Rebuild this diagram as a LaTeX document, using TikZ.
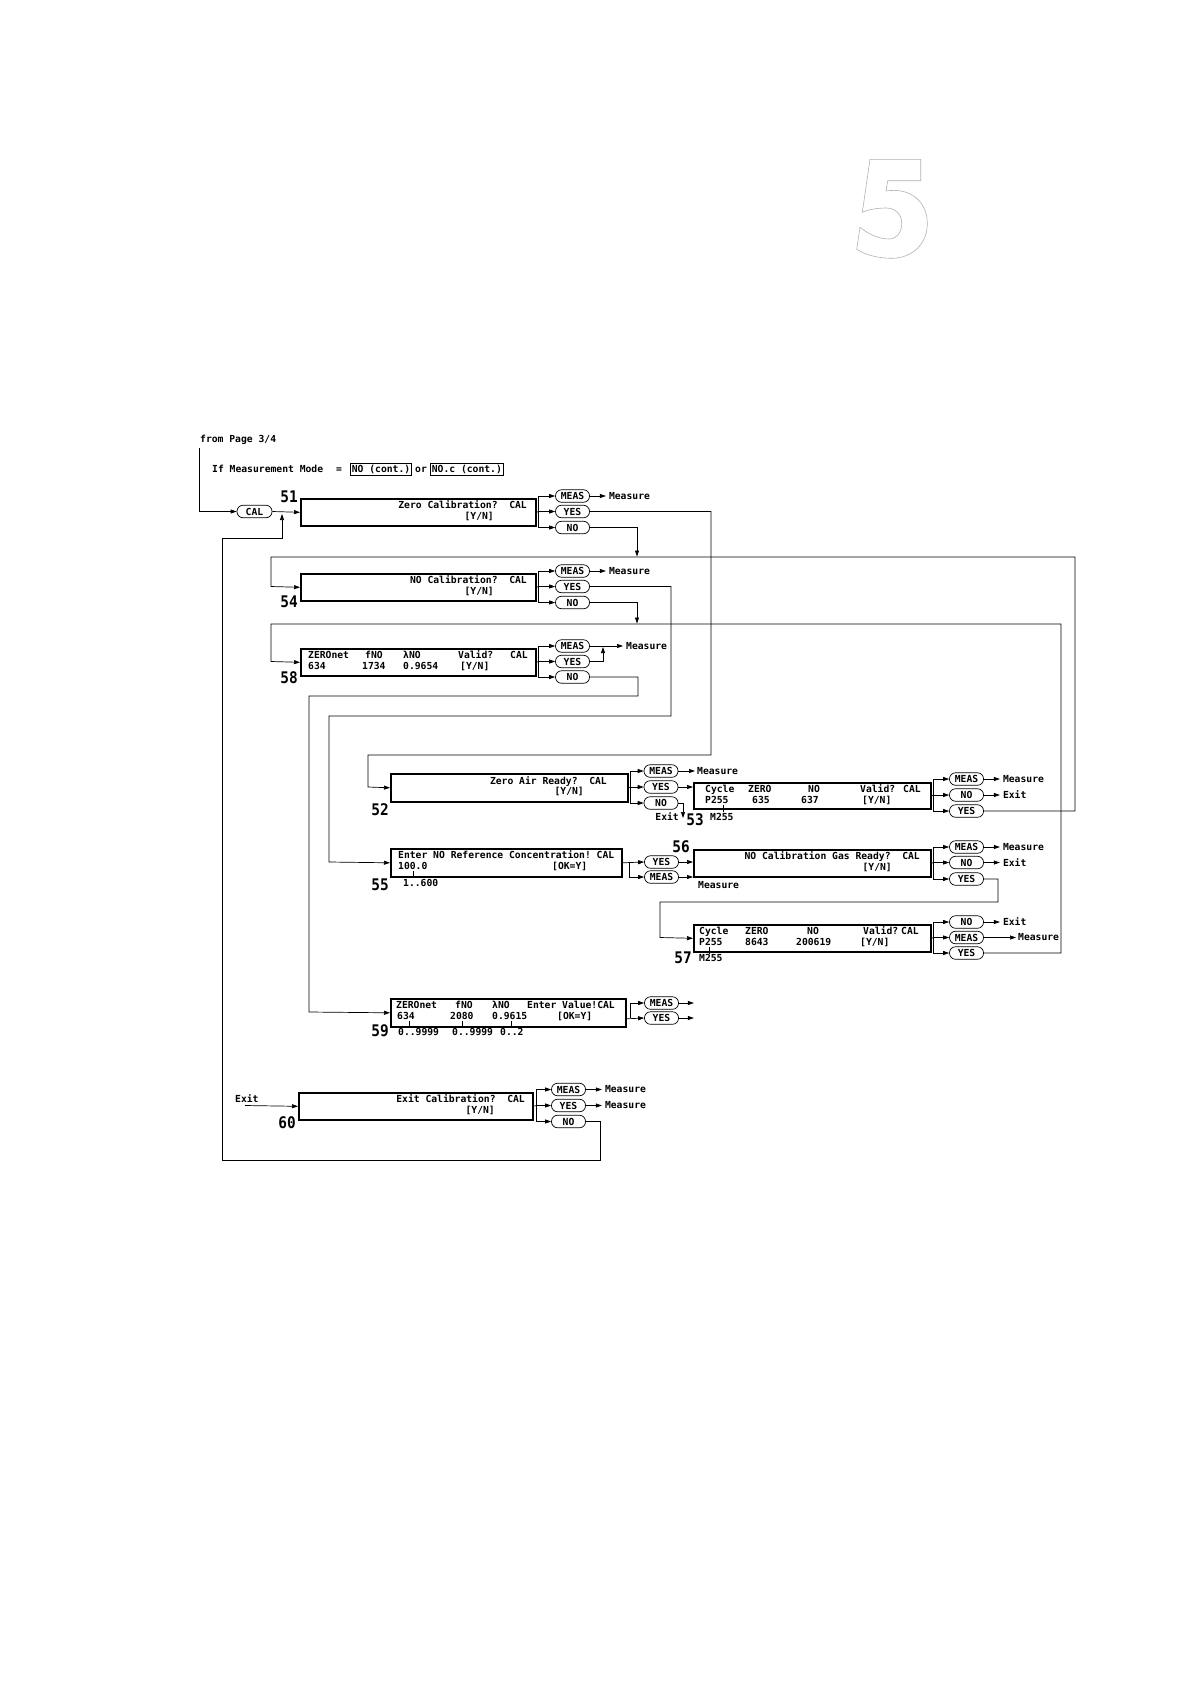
\documentclass[tikz,border=0pt]{standalone}
\usepackage{fontspec}
\usetikzlibrary{arrows.meta}
\newfontfamily\lcdfam{DejaVu Sans Mono}
\newfontfamily\numfam[FakeStretch=0.9]{DejaVu Sans Mono}
\newcommand\lcdf{\lcdfam\bfseries\fontsize{9.7}{11}\selectfont}
\newcommand\numf{\numfam\bfseries\fontsize{16}{18}\selectfont}
\begin{document}
\begin{tikzpicture}[x=1pt,y=-1pt,
 lcdbox/.style={draw, line width=1.6pt, inner sep=0pt, minimum height=27pt, anchor=north west},
 keyoval/.style={draw, line width=0.7pt, rounded corners=6pt, minimum width=34pt, minimum height=12.5pt, inner sep=0pt, font=\lcdf},
 lbl/.style={inner sep=0pt, font=\lcdf},
 lw/.style={lbl, anchor=base west},
 le/.style={lbl, anchor=base east},
 num/.style={inner sep=0pt, font=\numf, anchor=base east},
 conn/.style={line width=0.7pt},
 arr/.style={line width=0.7pt, -{Triangle[length=6pt,width=4pt]}},
 modebox/.style={draw, line width=0.7pt, inner sep=1.5pt, font=\lcdf, anchor=base west}]
\fill[white] (0,0) rectangle (1190,1684);
\useasboundingbox (0,0) rectangle (1190,1684);

% big chapter digit
\draw[gray!60, line width=0.6pt] (870,159.3) -- (920.7,159.3) -- (920.7,180.7) -- (887.7,180.7) -- (886,191)
  .. controls (912,187) and (927.3,203) .. (927.3,223.5)
  .. controls (927.3,245) and (911,258.3) .. (891.7,258.3)
  .. controls (877,258.3) and (865,254.5) .. (856.7,249.3) -- (860,227.3)
  .. controls (869,234.5) and (879,239) .. (889,239)
  .. controls (897,239) and (901.7,232) .. (901.7,223.5)
  .. controls (901.7,214) and (895.5,208) .. (886,208)
  .. controls (876,208) and (867,210) .. (862.3,212.3) -- cycle;

% header
\node[lw] (from) at (200,442) {from Page 3/4};
\node[lw] (ifmode) at (212,472.5) {If Measurement Mode};
\node[lw] (eqs) at (336,472.5) {=};
\node[modebox] (mode1) at (350,472.5) {NO (cont.)};
\node[lw] (orw) at (415,472.5) {or};
\node[modebox] (mode2) at (430,472.5) {NO.c (cont.)};
\node[keyoval, minimum width=35pt] (cal) at (254.5,511.5) {CAL};
\coordinate (fromtop) at (199,448);
\draw[arr] (fromtop) |- (cal.west);

% ---------- 51
\node[lcdbox, minimum width=235pt] (b51) at (300,498) {};
\node[num] (l51) at (298,502.5) {51};
\node[le] (t51a) at (527,508.5) {Zero Calibration?~~CAL};
\node[le] (t51b) at (494,519.5) {[Y/N]};
\node[keyoval] (m51) at (572.5,496) {MEAS};
\node[keyoval] (y51) at (572.5,511.5) {YES};
\node[keyoval] (n51) at (572.5,527.5) {NO};
\draw[arr] (cal.east) -- (b51.west);
\coordinate (j51) at (538.5,511.5);
\draw[conn] (b51.east) -- (j51);
\draw[arr] (j51) |- (m51.west);
\draw[arr] (j51) -- (y51.west);
\draw[arr] (j51) |- (n51.west);
\draw[arr] (m51.east) -- ++(16,0) coordinate (a51);
\node[lbl, anchor=west] (ms51) at ([xshift=3pt]a51) {Measure};

% ---------- 54
\node[lcdbox, minimum width=235pt] (b54) at (300,573) {};
\node[num] (l54) at (298,607.5) {54};
\node[le] (t54a) at (527,583.5) {NO Calibration?~~CAL};
\node[le] (t54b) at (494,594) {[Y/N]};
\node[keyoval] (m54) at (572.5,571) {MEAS};
\node[keyoval] (y54) at (572.5,586.5) {YES};
\node[keyoval] (n54) at (572.5,602.5) {NO};
\coordinate (j54) at (538.5,586.5);
\draw[conn] (b54.east) -- (j54);
\draw[arr] (j54) |- (m54.west);
\draw[arr] (j54) -- (y54.west);
\draw[arr] (j54) |- (n54.west);
\draw[arr] (m54.east) -- ++(16,0) coordinate (a54);
\node[lbl, anchor=west] (ms54) at ([xshift=3pt]a54) {Measure};

% ---------- 58
\node[lcdbox, minimum width=235pt] (b58) at (300,648) {};
\node[num] (l58) at (298,683) {58};
\node[lw] (t58a) at (308,658.5) {ZEROnet};
\node[lw] (t58b) at (365,658.5) {fNO};
\node[lw] (t58c) at (403,658.5) {λNO};
\node[lw] (t58d) at (458,658.5) {Valid?};
\node[lw] (t58e) at (510,658.5) {CAL};
\node[lw] (t58f) at (308,669) {634};
\node[lw] (t58g) at (362,669) {1734};
\node[lw] (t58h) at (403,669) {0.9654};
\node[lw] (t58i) at (460,669) {[Y/N]};
\node[keyoval] (m58) at (572.5,646) {MEAS};
\node[keyoval] (y58) at (572.5,661.5) {YES};
\node[keyoval] (n58) at (572.5,677) {NO};
\coordinate (j58) at (538.5,661.5);
\draw[conn] (b58.east) -- (j58);
\draw[arr] (j58) |- (m58.west);
\draw[arr] (j58) -- (y58.west);
\draw[arr] (j58) |- (n58.west);
\draw[arr] (m58.east) -- (623,646) coordinate (a58);
\node[lbl, anchor=west] (ms58) at ([xshift=3pt]a58) {Measure};
\draw[arr] (y58.east) -| (603,647);

% ---------- 52
\node[lcdbox, minimum width=237pt, minimum height=28pt] (b52) at (390,773) {};
\node[num] (l52) at (389,815) {52};
\node[le] (t52a) at (607,784) {Zero Air Ready?~~CAL};
\node[le] (t52b) at (584,794.5) {[Y/N]};
\node[keyoval] (m52) at (661,771) {MEAS};
\node[keyoval] (y52) at (661,787) {YES};
\node[keyoval] (n52) at (661,803) {NO};
\coordinate (j52) at (630.5,787);
\draw[conn] (b52.east) -- (j52);
\draw[arr] (j52) |- (m52.west);
\draw[arr] (j52) -- (y52.west);
\draw[arr] (j52) |- (n52.west);
\draw[arr] (m52.east) -- (695,771) coordinate (a52);
\node[lbl, anchor=west] (ms52) at ([xshift=2pt]a52) {Measure};
\draw[arr] (n52.east) -| (683,818);
\node[le] (ex52) at (679,820.5) {Exit};

% ---------- 53
\node[lcdbox, minimum width=237pt, minimum height=26pt] (b53) at (693,782) {};
\node[num] (l53) at (704,825) {53};
\node[lw] (t53a) at (705,792.5) {Cycle};
\node[lw] (t53b) at (748,792.5) {ZERO};
\node[lw] (t53c) at (808,792.5) {NO};
\node[lw] (t53d) at (860,792.5) {Valid?};
\node[lw] (t53e) at (903,792.5) {CAL};
\node[lw] (t53f) at (705,803) {P255};
\node[lw] (t53g) at (752,803) {635};
\node[lw] (t53h) at (801,803) {637};
\node[lw] (t53i) at (862,803) {[Y/N]};
\draw[conn] (723,804.5) -- (723,812);
\node[lw] (t53j) at (710,820.5) {M255};
\draw[arr] (y52.east) -- (y52.east -| b53.west);
\node[keyoval] (m53) at (966.5,779) {MEAS};
\node[keyoval] (n53) at (966.5,795) {NO};
\node[keyoval] (y53) at (966.5,811) {YES};
\coordinate (j53) at (933.5,795);
\draw[conn] (b53.east) -- (j53);
\draw[arr] (j53) |- (m53.west);
\draw[arr] (j53) -- (n53.west);
\draw[arr] (j53) |- (y53.west);
\draw[arr] (m53.east) -- ++(16,0) coordinate (a53);
\node[lbl, anchor=west] (ms53) at ([xshift=3pt]a53) {Measure};
\draw[arr] (n53.east) -- ++(16,0) coordinate (e53);
\node[lbl, anchor=west] (ex53) at ([xshift=3pt]e53) {Exit};

% ---------- 55
\node[lcdbox, minimum width=231pt, minimum height=28pt] (b55) at (390,848) {};
\node[num] (l55) at (389,890) {55};
\node[lw] (t55a) at (398,858.5) {Enter NO Reference Concentration!~CAL};
\node[lw] (t55b) at (398,869) {100.0};
\node[lw] (t55c) at (552,869) {[OK=Y]};
\draw[conn] (413,870.5) -- (413,878);
\node[lw] (t55d) at (403,886.5) {1..600};
\node[keyoval] (y55) at (661.5,862) {YES};
\node[keyoval] (m55) at (661.5,877) {MEAS};
\draw[arr] (b55.east) -- (y55.west);
\coordinate (j55) at (629,862);
\draw[arr] (j55) |- (m55.west);
\draw[arr] (m55.east) -- (693,877) coordinate (a55);
\node[lw] (ms55) at (698,888) {Measure};

% ---------- 56
\node[lcdbox, minimum width=237pt] (b56) at (693,849) {};
\node[num] (l56) at (690,852.5) {56};
\node[le] (t56a) at (920,859.5) {NO Calibration Gas Ready?~~CAL};
\node[le] (t56b) at (892,870) {[Y/N]};
\draw[arr] (y55.east) -- (y55.east -| b56.west);
\node[keyoval] (m56) at (966.5,847) {MEAS};
\node[keyoval] (n56) at (966.5,862.5) {NO};
\node[keyoval] (y56) at (966.5,879) {YES};
\coordinate (j56) at (933.5,862.5);
\draw[conn] (b56.east) -- (j56);
\draw[arr] (j56) |- (m56.west);
\draw[arr] (j56) -- (n56.west);
\draw[arr] (j56) |- (y56.west);
\draw[arr] (m56.east) -- ++(16,0) coordinate (a56);
\node[lbl, anchor=west] (ms56) at ([xshift=3pt]a56) {Measure};
\draw[arr] (n56.east) -- ++(16,0) coordinate (e56);
\node[lbl, anchor=west] (ex56) at ([xshift=3pt]e56) {Exit};

% ---------- 57
\node[lcdbox, minimum width=237pt] (b57) at (693,924) {};
\node[num] (l57) at (692,963) {57};
\node[lw] (t57a) at (699,934.5) {Cycle};
\node[lw] (t57b) at (745,934.5) {ZERO};
\node[lw] (t57c) at (807,934.5) {NO};
\node[lw] (t57d) at (863,934.5) {Valid?};
\node[lw] (t57e) at (901,934.5) {CAL};
\node[lw] (t57f) at (699,945) {P255};
\node[lw] (t57g) at (745,945) {8643};
\node[lw] (t57h) at (796,945) {200619};
\node[lw] (t57i) at (860,945) {[Y/N]};
\draw[conn] (709,946.5) -- (709,954);
\node[lw] (t57j) at (699,961.5) {M255};
\draw[arr] (y56.east) -| (998,902) -| (660,937.5) -- (b57.west);
\node[keyoval] (n57) at (966.5,922) {NO};
\node[keyoval] (m57) at (966.5,937.5) {MEAS};
\node[keyoval] (y57) at (966.5,953) {YES};
\coordinate (j57) at (933.5,937.5);
\draw[conn] (b57.east) -- (j57);
\draw[arr] (j57) |- (n57.west);
\draw[arr] (j57) -- (m57.west);
\draw[arr] (j57) |- (y57.west);
\draw[arr] (n57.east) -- ++(16,0) coordinate (e57);
\node[lbl, anchor=west] (ex57) at ([xshift=3pt]e57) {Exit};
\draw[arr] (m57.east) -- (1016,937.5) coordinate (a57);
\node[lbl, anchor=west] (ms57) at ([xshift=2pt]a57) {Measure};

% ---------- 59
\node[lcdbox, minimum width=235pt, minimum height=28pt] (b59) at (390,998) {};
\node[num] (l59) at (389,1036) {59};
\node[lw] (t59a) at (396,1008.5) {ZEROnet};
\node[lw] (t59b) at (455,1008.5) {fNO};
\node[lw] (t59c) at (492,1008.5) {λNO};
\node[lw] (t59d) at (527,1008.5) {Enter Value!CAL};
\node[lw] (t59e) at (397,1019) {634};
\node[lw] (t59f) at (450,1019) {2080};
\node[lw] (t59g) at (492,1019) {0.9615};
\node[lw] (t59h) at (557,1019) {[OK=Y]};
\draw[conn] (409,1020.5) -- (409,1028);
\draw[conn] (462,1020.5) -- (462,1028);
\draw[conn] (511,1020.5) -- (511,1028);
\node[lw] (t59i) at (398,1035.5) {0..9999};
\node[lw] (t59j) at (452,1035.5) {0..9999};
\node[lw] (t59k) at (500,1035.5) {0..2};
\node[keyoval] (m59) at (661.5,1003) {MEAS};
\node[keyoval] (y59) at (661.5,1018) {YES};
\draw[arr] ([yshift=-6pt]b59.east) -- (y59.west);
\coordinate (j59) at (630.5,1018);
\draw[arr] (j59) |- (m59.west);
\draw[arr] (m59.east) -- ++(15,0);
\draw[arr] (y59.east) -- ++(15,0);

% ---------- 60
\node[lcdbox, minimum width=234pt] (b60) at (298,1092) {};
\node[num] (l60) at (296,1128) {60};
\node[le] (t60a) at (525,1102.5) {Exit Calibration?~~CAL};
\node[le] (t60b) at (495,1113) {[Y/N]};
\node[lw] (exin) at (235,1102) {Exit};
\coordinate (exstart) at (245,1105.5);
\draw[arr] (exstart) -- (b60.west);
\node[keyoval] (m60) at (568.5,1089.5) {MEAS};
\node[keyoval] (y60) at (568.5,1105.5) {YES};
\node[keyoval] (n60) at (568.5,1121.5) {NO};
\coordinate (j60) at (536.5,1105.5);
\draw[conn] (b60.east) -- (j60);
\draw[arr] (j60) |- (m60.west);
\draw[arr] (j60) -- (y60.west);
\draw[arr] (j60) |- (n60.west);
\draw[arr] (m60.east) -- ++(16,0) coordinate (a60);
\node[lbl, anchor=west] (ms60) at ([xshift=3pt]a60) {Measure};
\draw[arr] (y60.east) -- ++(16,0) coordinate (b60m);
\node[lbl, anchor=west] (ms60b) at ([xshift=3pt]b60m) {Measure};

% ---------- long connectors
\draw[arr] (n60.east) -| (600,1160) -| (222,538) -| (282,514);
\draw[arr] (y51.east) -| (711,755) -| (368,787) -- (b52.west);
\draw[arr] (n51.east) -| (637,556.5);
\draw[arr] (y53.east) -| (1075,557) -| (271,586.5) -- (b54.west);
\draw[arr] (y54.east) -| (671,716) -| (329,862) -- (b55.west);
\draw[arr] (n54.east) -| (637,623.5);
\draw[arr] (y57.east) -| (1061,624) -| (271,661.5) -- (b58.west);
\draw[arr] (n58.east) -| (638,696) -| (309,1012) -- (b59.west);
\end{tikzpicture}
\end{document}
